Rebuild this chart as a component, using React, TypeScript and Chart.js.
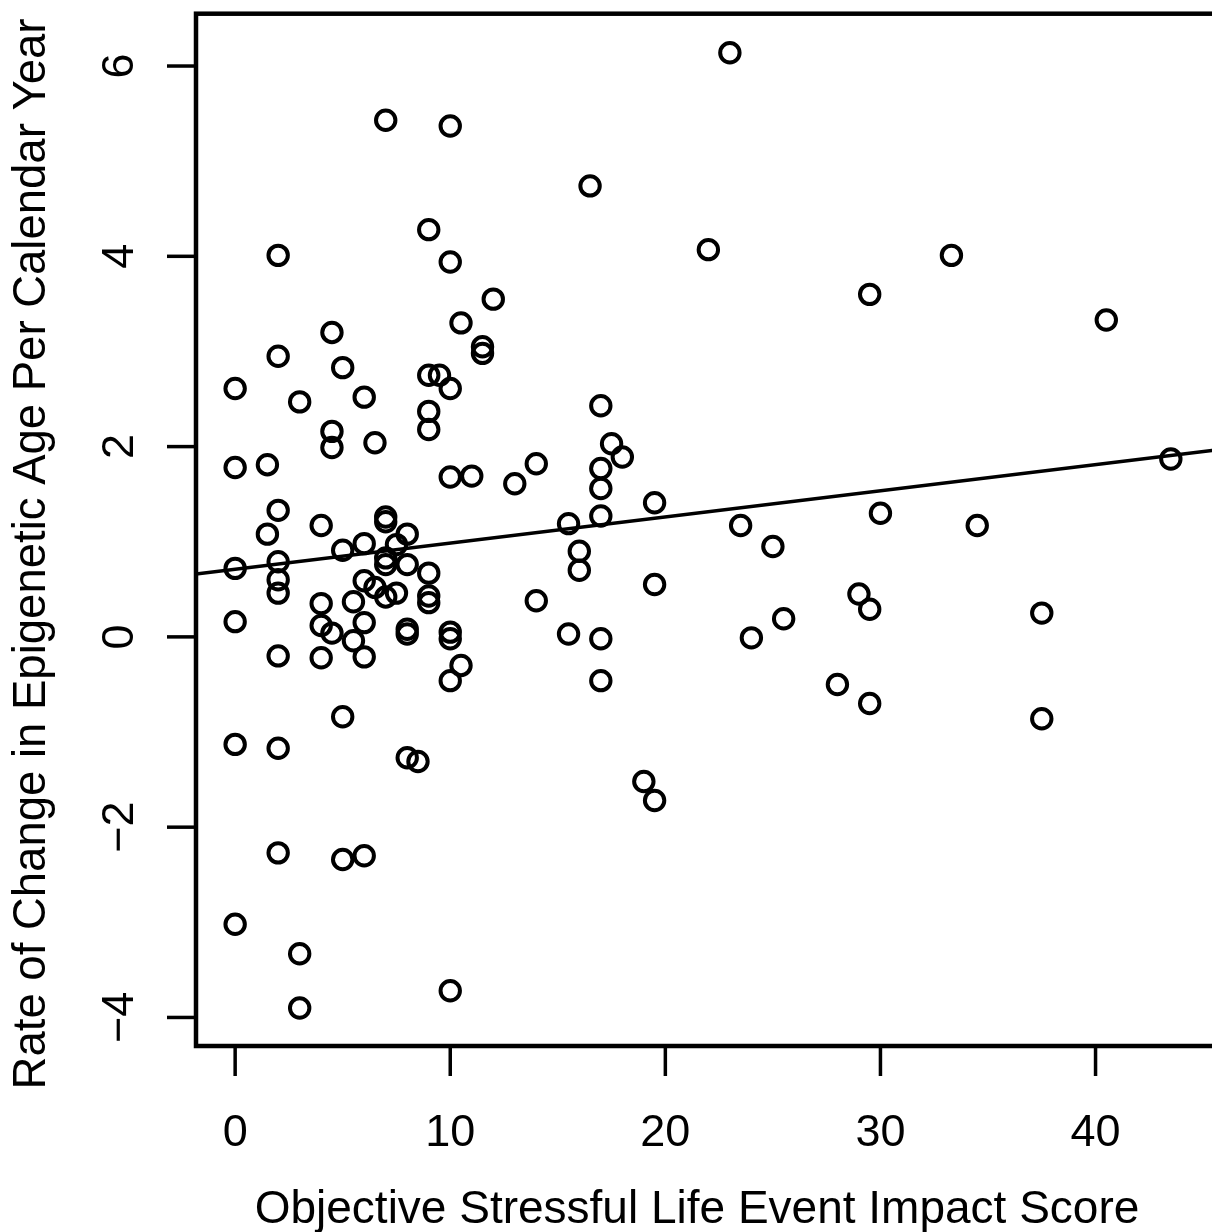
import React, { useEffect, useRef } from "react";
import { Chart, registerables } from "chart.js";

Chart.register(...registerables);

// Objective stressful life event impact score (x)
const SLE_SCORE: number[] = [
  0, 0, 0, 0, 0, 0,
  2, 2, 2, 2, 2, 2, 2, 2, 2,
  1.5, 1.5,
  3, 3, 3,
  4.5, 4.5, 4.5, 4, 4, 4, 4, 4.5,
  5, 5, 5, 5,
  5.5, 5.5,
  6, 6, 6, 6, 6, 6,
  6.5, 6.5,
  7, 7, 7, 7, 7, 7,
  7.5, 7.5,
  8, 8, 8, 8, 8,
  8.5,
  9, 9, 9.5, 9, 9, 9, 9, 9,
  10, 10, 10, 10, 10, 10, 10, 10,
  10.5, 10.5,
  11,
  11.5, 11.5,
  12, 13, 14, 14,
  15.5, 15.5, 16, 16, 16.5,
  17, 17, 17, 17, 17, 17,
  17.5, 18, 19, 19.5, 19.5, 19.5,
  22, 23, 23.5, 24, 25, 25.5,
  28, 29, 29.5, 29.5, 29.5, 30,
  33.3, 34.5, 37.5, 37.5, 40.5, 43.5,
];

// Rate of change in epigenetic age per calendar year (y)
const EPI_RATE: number[] = [
  2.61, 1.78, 0.72, 0.16, -1.13, -3.02,
  4.01, 2.95, 1.33, 0.79, 0.6, 0.46, -0.2, -1.17, -2.27,
  1.81, 1.08,
  2.47, -3.33, -3.9,
  3.2, 2.16, 1.99, 1.17, 0.35, 0.12, -0.22, 0.04,
  2.83, 0.91, -0.84, -2.34,
  0.37, -0.04,
  2.52, 0.98, 0.59, 0.15, -0.21, -2.3,
  2.04, 0.52,
  5.43, 1.26, 1.21, 0.83, 0.76, 0.42,
  0.97, 0.46,
  1.08, 0.76, 0.08, 0.03, -1.27,
  -1.31,
  4.28, 2.75, 2.75, 2.37, 2.18, 0.67, 0.43, 0.36,
  5.37, 3.94, 2.61, 1.68, 0.05, -0.02, -0.46, -3.72,
  3.3, -0.3,
  1.69,
  3.05, 2.98,
  3.55, 1.61, 1.82, 0.38,
  1.19, 0.03, 0.9, 0.7, 4.74,
  2.43, 1.77, 1.56, 1.27, -0.02, -0.46,
  2.03, 1.89, -1.52, 1.41, 0.55, -1.72,
  4.07, 6.14, 1.17, -0.01, 0.95, 0.19,
  -0.5, 0.45, 3.6, 0.29, -0.7, 1.3,
  4.01, 1.17, 0.25, -0.86, 3.33, 1.87,
];

// Fitted regression line
const FIT_INTERCEPT = 0.71;
const FIT_SLOPE = 0.0275;

const X_TICKS: number[] = [0, 10, 20, 30, 40];
const Y_TICKS: number[] = [-4, -2, 0, 2, 4, 6];
const X_MIN = -1.82;
const X_MAX = 45.6;
const Y_MIN = -4.3;
const Y_MAX = 6.55;

const X_TITLE = "Objective Stressful Life Event Impact Score";
const Y_TITLE = "Rate of Change in Epigenetic Age Per Calendar Year";

const TICK_FONT = "45px 'Liberation Sans', Arial, Helvetica, sans-serif";
const XTITLE_FONT = "46px 'Liberation Sans', Arial, Helvetica, sans-serif";
const YTITLE_FONT = "45.5px 'Liberation Sans', Arial, Helvetica, sans-serif";

const fmt = (v: number) => (v < 0 ? "\u2212" + String(-v) : String(v));

const rAxesPlugin = {
  id: "rAxes",
  afterDraw(chart: any) {
    const ctx = chart.ctx as CanvasRenderingContext2D;
    const ca = chart.chartArea;
    const xs = chart.scales.x;
    const ys = chart.scales.y;
    ctx.save();
    ctx.strokeStyle = "#000";
    ctx.fillStyle = "#000";
    ctx.lineWidth = 4.5;
    ctx.strokeRect(ca.left, ca.top, ca.right - ca.left, ca.bottom - ca.top);

    ctx.lineWidth = 3.5;
    ctx.font = TICK_FONT;
    ctx.textAlign = "center";
    ctx.textBaseline = "alphabetic";
    xs.ticks.forEach((t: any) => {
      const px = xs.getPixelForValue(t.value);
      ctx.beginPath();
      ctx.moveTo(px, ca.bottom);
      ctx.lineTo(px, ca.bottom + 30);
      ctx.stroke();
      ctx.fillText(fmt(t.value), px, ca.bottom + 100);
    });
    ys.ticks.forEach((t: any) => {
      const py = ys.getPixelForValue(t.value);
      ctx.beginPath();
      ctx.moveTo(ca.left - 29, py);
      ctx.lineTo(ca.left, py);
      ctx.stroke();
      ctx.save();
      ctx.translate(ca.left - 63, py);
      ctx.rotate(-Math.PI / 2);
      ctx.fillText(fmt(t.value), 0, 0);
      ctx.restore();
    });

    ctx.font = XTITLE_FONT;
    ctx.fillText(X_TITLE, 697, 1223);
    ctx.font = YTITLE_FONT;
    ctx.save();
    ctx.translate(45, 554);
    ctx.rotate(-Math.PI / 2);
    ctx.fillText(Y_TITLE, 0, 0);
    ctx.restore();
    ctx.restore();
  },
};

export default function App() {
  const canvasRef = useRef<HTMLCanvasElement | null>(null);

  useEffect(() => {
    if (!canvasRef.current) return;
    const points = SLE_SCORE.map((x, i) => ({ x, y: EPI_RATE[i] }));
    const fitLine = [
      { x: X_MIN, y: FIT_INTERCEPT + FIT_SLOPE * X_MIN },
      { x: X_MAX, y: FIT_INTERCEPT + FIT_SLOPE * X_MAX },
    ];
    const chart = new Chart(canvasRef.current, {
      type: "scatter",
      data: {
        datasets: [
          {
            type: "line",
            data: fitLine,
            borderColor: "#000",
            borderWidth: 3.5,
            pointRadius: 0,
            fill: false,
          } as any,
          {
            type: "scatter",
            data: points,
            pointRadius: 9.7,
            pointHoverRadius: 9.7,
            borderWidth: 4,
            borderColor: "#000",
            backgroundColor: "rgba(0,0,0,0)",
            pointStyle: "circle",
          },
        ],
      },
      options: {
        responsive: false,
        maintainAspectRatio: false,
        devicePixelRatio: 1,
        animation: false,
        events: [],
        layout: { padding: { left: 0, top: 11, right: 24, bottom: 0 } },
        plugins: { legend: { display: false }, tooltip: { enabled: false } },
        scales: {
          x: {
            type: "linear",
            min: X_MIN,
            max: X_MAX,
            ticks: { display: false },
            grid: { display: false },
            border: { display: false },
            afterBuildTicks: (s: any) => {
              s.ticks = X_TICKS.map((v) => ({ value: v }));
            },
            afterFit: (s: any) => {
              s.height = 186;
            },
          },
          y: {
            type: "linear",
            min: Y_MIN,
            max: Y_MAX,
            ticks: { display: false },
            grid: { display: false },
            border: { display: false },
            afterBuildTicks: (s: any) => {
              s.ticks = Y_TICKS.map((v) => ({ value: v }));
            },
            afterFit: (s: any) => {
              s.width = 196;
            },
          },
        },
      },
      plugins: [rAxesPlugin],
    });
    return () => chart.destroy();
  }, []);

  return (
    <div
      style={{
        position: "absolute",
        left: 0,
        top: 0,
        width: 1212,
        height: 1232,
        overflow: "hidden",
        background: "#fff",
      }}
    >
      <canvas ref={canvasRef} width={1240} height={1232} style={{ display: "block" }} />
    </div>
  );
}
